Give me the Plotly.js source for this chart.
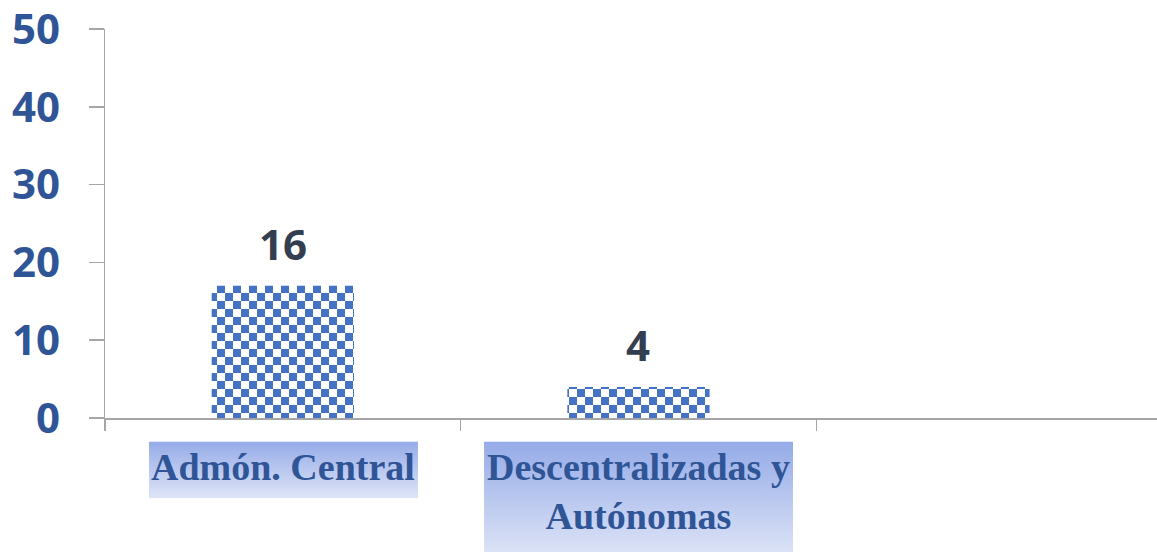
<!DOCTYPE html>
<html>
<head>
<meta charset="utf-8">
<script src="https://cdn.plot.ly/plotly-3.0.1.min.js"></script>
<style>html,body{margin:0;padding:0;background:#fff;}#chart{width:1157px;height:552px;}</style>
</head>
<body>
<div id="chart"></div>
<script>
// ---- data ----
const categories = ["Admón. Central", "Descentralizadas y Autónomas"];
const categoryLabels = ["Admón. Central", "Descentralizadas y<br>Autónomas"];
const barValues = [17, 4];
const dataLabels = ["16", "4"];
const yTickValues = [0, 10, 20, 30, 40, 50];

// ---- styling ----
const BLUE_TEXT = "#2F5597";
const LABEL_DARK = "#333F50";
const AXIS_GRAY = "#A6A6A6";

function gradientUri(){
  const svg = '<svg xmlns="http://www.w3.org/2000/svg" width="100" height="100" preserveAspectRatio="none">' +
    '<defs><linearGradient id="g" x1="0" y1="0" x2="0" y2="1">' +
    '<stop offset="0" stop-color="#95ABE8"/><stop offset="1" stop-color="#DFE5F7"/>' +
    '</linearGradient></defs><rect width="100" height="100" fill="url(#g)"/></svg>';
  return "data:image/svg+xml;charset=utf-8," + encodeURIComponent(svg);
}

const trace = {
  type: "bar",
  x: categories,
  y: barValues,
  width: 0.4,
  marker: {color: "#4472C4", line: {width: 0}},
  hoverinfo: "skip"
};

const annotations = [];
categories.forEach((c, i) => {
  annotations.push({
    x: c, y: barValues[i], xref: "x", yref: "y",
    text: dataLabels[i], showarrow: false, yanchor: "bottom", yshift: 12,
    font: {family: "Open Sans", size: 42, color: LABEL_DARK, weight: 700}
  });
  annotations.push({
    x: c, y: 0, xref: "x", yref: "y",
    text: categoryLabels[i], showarrow: false, yanchor: "top", yshift: -26, align: "center",
    font: {family: "Liberation Serif", size: 38, color: BLUE_TEXT, weight: 700}
  });
});

// label background boxes (paper coordinates)
const boxes = [
  {x: 0.0418, w: 0.2557, y: -0.0603, h: 0.1464},
  {x: 0.3603, w: 0.2937, y: -0.0603, h: 0.30}
];
const images = boxes.map(b => ({
  source: gradientUri(), xref: "paper", yref: "paper",
  x: b.x, y: b.y, sizex: b.w, sizey: b.h,
  xanchor: "left", yanchor: "top", sizing: "stretch", layer: "below"
}));

const layout = {
  width: 1157, height: 552,
  margin: {l: 105, r: 0, t: 29, b: 133.5, pad: 0},
  paper_bgcolor: "rgba(0,0,0,0)",
  plot_bgcolor: "rgba(0,0,0,0)",
  showlegend: false,
  xaxis: {
    type: "category",
    range: [-0.5, 2.458],
    showline: true, linecolor: AXIS_GRAY, linewidth: 1.5,
    ticks: "outside", tickson: "boundaries", ticklen: 11, tickcolor: AXIS_GRAY, tickwidth: 1.5,
    showticklabels: false, showgrid: false, zeroline: false, fixedrange: true
  },
  yaxis: {
    range: [0, 50.001],
    tickvals: yTickValues,
    ticklabeloverflow: "allow",
    showline: true, linecolor: AXIS_GRAY, linewidth: 1.5,
    ticks: "outside", ticklen: 15, tickcolor: AXIS_GRAY, tickwidth: 1.5,
    ticklabelstandoff: 20,
    tickfont: {family: "Open Sans", size: 42, color: BLUE_TEXT, weight: 700},
    showgrid: false, zeroline: false, fixedrange: true
  },
  annotations: annotations,
  images: images
};

function applyChecker(){
  const svg = document.querySelector("#chart .main-svg");
  if(!svg) return;
  let defs = svg.querySelector("defs");
  if(!defs){ defs = document.createElementNS("http://www.w3.org/2000/svg","defs"); svg.insertBefore(defs, svg.firstChild); }
  if(!svg.querySelector("#checkerPat")){
    const ns = "http://www.w3.org/2000/svg";
    const p = document.createElementNS(ns, "pattern");
    p.setAttribute("id", "checkerPat");
    p.setAttribute("patternUnits", "userSpaceOnUse");
    p.setAttribute("width", "16"); p.setAttribute("height", "16");
    const mk = (x,y,w,h,f) => { const r = document.createElementNS(ns,"rect"); r.setAttribute("x",x); r.setAttribute("y",y); r.setAttribute("width",w); r.setAttribute("height",h); r.setAttribute("fill",f); p.appendChild(r); };
    mk(0,0,16,16,"#FFFFFF");
    mk(0,0,8,8,"#4472C4");
    mk(8,8,8,8,"#4472C4");
    defs.appendChild(p);
  }
  document.querySelectorAll("#chart .barlayer .point path").forEach(el => {
    el.style.fill = "url(#checkerPat)";
  });
}

Plotly.newPlot("chart", [trace], layout, {displayModeBar: false, staticPlot: true}).then(applyChecker);
</script>
</body>
</html>
